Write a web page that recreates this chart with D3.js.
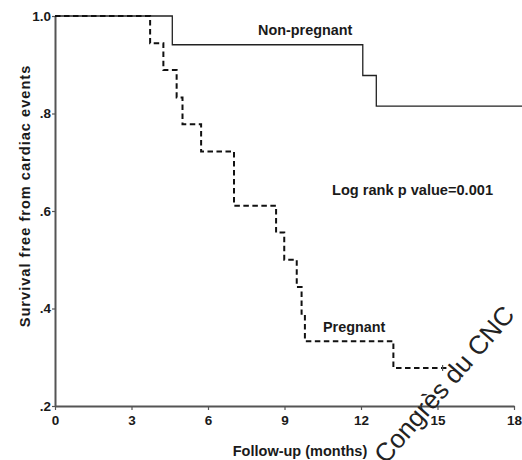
<!DOCTYPE html>
<html>
<head>
<meta charset="utf-8">
<script src="https://cdn.jsdelivr.net/npm/d3@7"></script>
<style>
  html, body { margin: 0; padding: 0; background: #fff; overflow: hidden; }
  svg { display: block; font-family: "Liberation Sans", Arial, Helvetica, sans-serif; }
</style>
</head>
<body>
<div id="chart"></div>
<script>
// Kaplan-Meier curves (months, survival)
const pregTimes    = [0, 3.73, 4.25, 4.77, 5.0, 5.73, 7.02, 8.67, 8.99, 9.48, 9.67, 9.8, 13.27, 15.35];
const pregSurv     = [1.0, 0.944, 0.889, 0.833, 0.778, 0.722, 0.611, 0.556, 0.5, 0.444, 0.389, 0.333, 0.278, 0.278];
const pregCensored = [15.2];
const nonTimes     = [0, 4.6, 12.07, 12.6, 18.4];
const nonSurv      = [1.0, 0.941, 0.878, 0.815, 0.815];
const xTicks = [0, 3, 6, 9, 12, 15, 18];
const yTicks = [0.2, 0.4, 0.6, 0.8, 1.0];
const yTickLabels = [".2", ".4", ".6", ".8", "1.0"];

const W = 522, H = 460;
const svg = d3.select("#chart").append("svg").attr("width", W).attr("height", H);

const x = d3.scaleLinear().domain([0, 18]).range([55, 514]);
const y = d3.scaleLinear().domain([0.2, 1.0]).range([406, 16]);

// axes
const xAxis = svg.append("g").attr("transform", `translate(0,${y(0.2)})`)
  .call(d3.axisBottom(x).tickValues(xTicks).tickFormat(d3.format("d")).tickSize(4).tickPadding(5).tickSizeOuter(0));
const yAxis = svg.append("g").attr("transform", `translate(${x(0)},0)`)
  .call(d3.axisLeft(y).tickValues(yTicks).tickFormat((d, i) => yTickLabels[i]).tickSize(3).tickPadding(1).tickSizeOuter(0));
[xAxis, yAxis].forEach(g => {
  g.select(".domain").attr("stroke", "#555").attr("stroke-width", 2);
  g.selectAll(".tick line").attr("stroke", "#555").attr("stroke-width", 1.2);
  g.selectAll(".tick text").attr("fill", "#1a1a1a").attr("font-size", "13.5px").attr("font-weight", "bold");
});

// curves
const line = d3.line().x(d => x(d[0])).y(d => y(d[1])).curve(d3.curveStepAfter);

svg.append("path").datum(nonTimes.map((t, i) => [t, nonSurv[i]]))
  .attr("d", line).attr("fill", "none").attr("stroke", "#222").attr("stroke-width", 1.3);

svg.append("path").datum(pregTimes.map((t, i) => [t, pregSurv[i]]))
  .attr("d", line).attr("fill", "none").attr("stroke", "#111").attr("stroke-width", 2)
  .attr("stroke-dasharray", "5.5,3.5");

// censoring marks
pregCensored.forEach(t => {
  svg.append("line").attr("x1", x(t)).attr("x2", x(t))
    .attr("y1", y(0.278) - 3).attr("y2", y(0.278) + 3)
    .attr("stroke", "#555").attr("stroke-width", 1.2);
});

// labels
const lab = (txt, px, py, size, extra) => {
  const t = svg.append("text").attr("x", px).attr("y", py).attr("font-size", size + "px")
    .attr("font-weight", "bold").attr("fill", "#1a1a1a").text(txt);
  if (extra) extra(t);
  return t;
};
lab("Non-pregnant", 258, 35, 14.4);
lab("Log rank p value=0.001", 332, 195, 14.6);
lab("Pregnant", 323, 332, 14.4);
lab("Follow-up (months)", 300, 456, 14.5, t => t.attr("text-anchor", "middle"));
lab("Survival free from cardiac events", 0, 0, 14.6, t => t.attr("text-anchor", "middle")
  .attr("letter-spacing", "1px").attr("transform", "translate(30,196) rotate(-90)"));

// watermark text
svg.append("text").attr("x", 0).attr("y", 0).attr("font-size", "26px").attr("fill", "#222")
  .attr("transform", "translate(386,465) rotate(-49)").text("Congrès du CNC");
</script>
</body>
</html>
